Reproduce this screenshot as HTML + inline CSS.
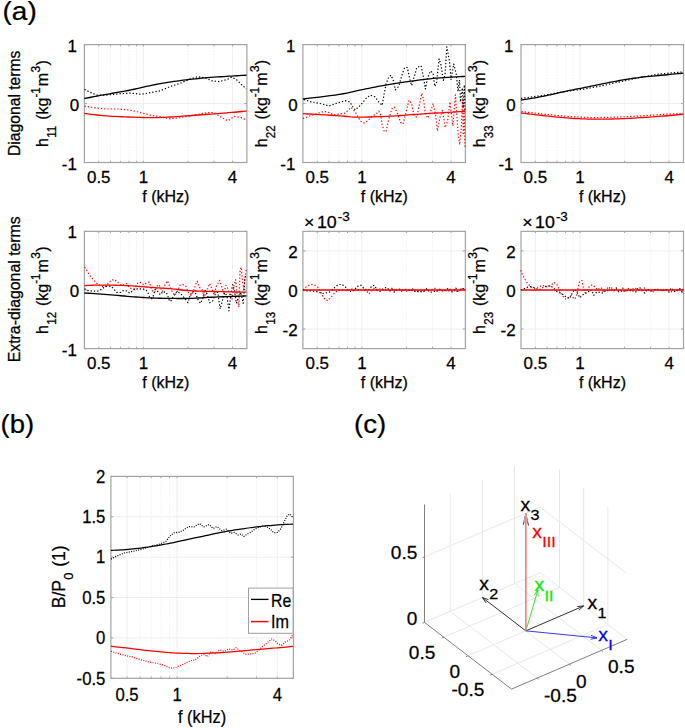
<!DOCTYPE html>
<html><head><meta charset="utf-8"><style>
html,body{margin:0;padding:0;background:#fff;width:685px;height:728px;overflow:hidden}
svg{display:block}
text{font-family:"Liberation Sans", sans-serif;stroke:#000;stroke-width:0.25px;}
</style></head><body>
<svg width="685" height="728" viewBox="0 0 685 728">
<rect width="685" height="728" fill="#fff"/>
<line x1="110.49" y1="44.6" x2="110.49" y2="162.5" stroke="#f2f2f2" stroke-width="1" stroke-dasharray="1.5,1.5"/>
<line x1="120.4" y1="44.6" x2="120.4" y2="162.5" stroke="#f2f2f2" stroke-width="1" stroke-dasharray="1.5,1.5"/>
<line x1="129" y1="44.6" x2="129" y2="162.5" stroke="#f2f2f2" stroke-width="1" stroke-dasharray="1.5,1.5"/>
<line x1="136.57" y1="44.6" x2="136.57" y2="162.5" stroke="#f2f2f2" stroke-width="1" stroke-dasharray="1.5,1.5"/>
<line x1="187.95" y1="44.6" x2="187.95" y2="162.5" stroke="#f2f2f2" stroke-width="1" stroke-dasharray="1.5,1.5"/>
<line x1="214.03" y1="44.6" x2="214.03" y2="162.5" stroke="#f2f2f2" stroke-width="1" stroke-dasharray="1.5,1.5"/>
<line x1="98.76" y1="44.6" x2="98.76" y2="162.5" stroke="#efefef" stroke-width="1"/>
<line x1="143.35" y1="44.6" x2="143.35" y2="162.5" stroke="#efefef" stroke-width="1"/>
<line x1="232.54" y1="44.6" x2="232.54" y2="162.5" stroke="#efefef" stroke-width="1"/>
<line x1="84.4" y1="103.55" x2="246.9" y2="103.55" stroke="#efefef" stroke-width="1"/>
<line x1="110.49" y1="162.5" x2="110.49" y2="160.75" stroke="#a3a3a3" stroke-width="1"/>
<line x1="110.49" y1="44.6" x2="110.49" y2="46.35" stroke="#a3a3a3" stroke-width="1"/>
<line x1="120.4" y1="162.5" x2="120.4" y2="160.75" stroke="#a3a3a3" stroke-width="1"/>
<line x1="120.4" y1="44.6" x2="120.4" y2="46.35" stroke="#a3a3a3" stroke-width="1"/>
<line x1="129" y1="162.5" x2="129" y2="160.75" stroke="#a3a3a3" stroke-width="1"/>
<line x1="129" y1="44.6" x2="129" y2="46.35" stroke="#a3a3a3" stroke-width="1"/>
<line x1="136.57" y1="162.5" x2="136.57" y2="160.75" stroke="#a3a3a3" stroke-width="1"/>
<line x1="136.57" y1="44.6" x2="136.57" y2="46.35" stroke="#a3a3a3" stroke-width="1"/>
<line x1="187.95" y1="162.5" x2="187.95" y2="160.75" stroke="#a3a3a3" stroke-width="1"/>
<line x1="187.95" y1="44.6" x2="187.95" y2="46.35" stroke="#a3a3a3" stroke-width="1"/>
<line x1="214.03" y1="162.5" x2="214.03" y2="160.75" stroke="#a3a3a3" stroke-width="1"/>
<line x1="214.03" y1="44.6" x2="214.03" y2="46.35" stroke="#a3a3a3" stroke-width="1"/>
<line x1="98.76" y1="162.5" x2="98.76" y2="160.75" stroke="#a3a3a3" stroke-width="1"/>
<line x1="98.76" y1="44.6" x2="98.76" y2="46.35" stroke="#a3a3a3" stroke-width="1"/>
<line x1="143.35" y1="162.5" x2="143.35" y2="160.75" stroke="#a3a3a3" stroke-width="1"/>
<line x1="143.35" y1="44.6" x2="143.35" y2="46.35" stroke="#a3a3a3" stroke-width="1"/>
<line x1="232.54" y1="162.5" x2="232.54" y2="160.75" stroke="#a3a3a3" stroke-width="1"/>
<line x1="232.54" y1="44.6" x2="232.54" y2="46.35" stroke="#a3a3a3" stroke-width="1"/>
<line x1="84.4" y1="162.5" x2="86.9" y2="162.5" stroke="#a3a3a3" stroke-width="1"/>
<line x1="246.9" y1="162.5" x2="244.4" y2="162.5" stroke="#a3a3a3" stroke-width="1"/>
<line x1="84.4" y1="103.55" x2="86.9" y2="103.55" stroke="#a3a3a3" stroke-width="1"/>
<line x1="246.9" y1="103.55" x2="244.4" y2="103.55" stroke="#a3a3a3" stroke-width="1"/>
<line x1="84.4" y1="44.6" x2="86.9" y2="44.6" stroke="#a3a3a3" stroke-width="1"/>
<line x1="246.9" y1="44.6" x2="244.4" y2="44.6" stroke="#a3a3a3" stroke-width="1"/>
<rect x="84.4" y="44.6" width="162.5" height="117.9" fill="none" stroke="#a3a3a3" stroke-width="1.2"/>
<text transform="translate(76.9,169.53) scale(1.06,1)" font-size="16" text-anchor="end" fill="#000">-1</text>
<text transform="translate(79.1,110.58) scale(1.06,1)" font-size="16" text-anchor="end" fill="#000">0</text>
<text transform="translate(76.9,51.63) scale(1.06,1)" font-size="16" text-anchor="end" fill="#000">1</text>
<text transform="translate(98.76,183.26) scale(1.06,1)" font-size="16" text-anchor="middle" fill="#000">0.5</text>
<text transform="translate(143.35,183.26) scale(1.06,1)" font-size="16" text-anchor="middle" fill="#000">1</text>
<text transform="translate(232.54,183.26) scale(1.06,1)" font-size="16" text-anchor="middle" fill="#000">4</text>
<polyline points="84.5,106.1 94.3,107.8 106.5,109 118.8,109 131,110.3 140.9,112.7 150.7,115.2 160.5,116.9 170.3,118.9 180.1,117.6 189.9,115.9 199.7,114 207.1,112.7 214.4,112.7 221.8,117.6 227.9,120.8 234.1,116.4 241.4,117.6 246.3,120.1" fill="none" stroke="#ff0000" stroke-width="1.2" stroke-linejoin="round" stroke-dasharray="1.3,2"/>
<polyline points="84.5,89.4 89.4,91.9 96.7,95.1 106.5,95.1 118.8,93.8 131,93.1 140.9,94.3 150.7,92.6 160.5,90.7 170.3,86.5 180.1,83.3 189.9,79.1 197.3,76.7 204.6,77.7 212,80.8 219.4,81.6 226.7,79.6 231.6,77.2 236.5,79.6 241.4,84.5 246.3,88.9" fill="none" stroke="#000" stroke-width="1.2" stroke-linejoin="round" stroke-dasharray="1.3,2"/>
<polyline points="84.3,98.5 86,98.18 88.24,97.75 90.9,97.24 93.87,96.67 97.03,96.07 100.27,95.46 103.46,94.86 106.5,94.3 109.45,93.77 112.46,93.24 115.51,92.71 118.6,92.18 121.7,91.63 124.81,91.07 127.92,90.5 131,89.9 134.07,89.26 137.15,88.59 140.22,87.88 143.3,87.17 146.38,86.46 149.45,85.77 152.53,85.11 155.6,84.5 158.67,83.93 161.73,83.39 164.79,82.87 167.86,82.38 170.92,81.91 173.98,81.46 177.04,81.02 180.1,80.6 183.16,80.2 186.22,79.82 189.28,79.46 192.34,79.11 195.41,78.79 198.47,78.48 201.53,78.18 204.6,77.9 207.72,77.63 210.91,77.39 214.14,77.16 217.35,76.94 220.51,76.74 223.56,76.55 226.47,76.37 229.2,76.2 231.83,76.03 234.44,75.88 236.98,75.73 239.39,75.59 241.6,75.47 243.56,75.36 245.22,75.27 246.5,75.2" fill="none" stroke="#000" stroke-width="1.3" stroke-linejoin="round"/>
<polyline points="84.3,113.5 86,113.69 88.24,113.96 90.9,114.28 93.87,114.62 97.03,114.98 100.27,115.33 103.46,115.64 106.5,115.9 109.45,116.11 112.46,116.3 115.51,116.47 118.6,116.62 121.7,116.75 124.81,116.88 127.92,116.99 131,117.1 134.07,117.21 137.15,117.31 140.22,117.41 143.3,117.5 146.38,117.57 149.45,117.61 152.53,117.62 155.6,117.6 158.67,117.54 161.73,117.44 164.79,117.31 167.86,117.15 170.92,116.98 173.98,116.79 177.04,116.6 180.1,116.4 183.16,116.2 186.22,115.97 189.28,115.73 192.34,115.49 195.41,115.24 198.47,114.98 201.53,114.74 204.6,114.5 207.72,114.27 210.91,114.04 214.14,113.81 217.35,113.59 220.51,113.36 223.56,113.14 226.47,112.92 229.2,112.7 231.83,112.47 234.44,112.23 236.98,111.98 239.39,111.74 241.6,111.51 243.56,111.3 245.22,111.13 246.5,111" fill="none" stroke="#ff0000" stroke-width="1.3" stroke-linejoin="round"/>
<text transform="translate(165.85,201.9) scale(1.0,1)" font-size="16" text-anchor="middle" fill="#000">f (kHz)</text>
<line x1="328.99" y1="44.6" x2="328.99" y2="162.5" stroke="#f2f2f2" stroke-width="1" stroke-dasharray="1.5,1.5"/>
<line x1="338.9" y1="44.6" x2="338.9" y2="162.5" stroke="#f2f2f2" stroke-width="1" stroke-dasharray="1.5,1.5"/>
<line x1="347.5" y1="44.6" x2="347.5" y2="162.5" stroke="#f2f2f2" stroke-width="1" stroke-dasharray="1.5,1.5"/>
<line x1="355.07" y1="44.6" x2="355.07" y2="162.5" stroke="#f2f2f2" stroke-width="1" stroke-dasharray="1.5,1.5"/>
<line x1="406.45" y1="44.6" x2="406.45" y2="162.5" stroke="#f2f2f2" stroke-width="1" stroke-dasharray="1.5,1.5"/>
<line x1="432.53" y1="44.6" x2="432.53" y2="162.5" stroke="#f2f2f2" stroke-width="1" stroke-dasharray="1.5,1.5"/>
<line x1="317.26" y1="44.6" x2="317.26" y2="162.5" stroke="#efefef" stroke-width="1"/>
<line x1="361.85" y1="44.6" x2="361.85" y2="162.5" stroke="#efefef" stroke-width="1"/>
<line x1="451.04" y1="44.6" x2="451.04" y2="162.5" stroke="#efefef" stroke-width="1"/>
<line x1="302.9" y1="103.55" x2="465.4" y2="103.55" stroke="#efefef" stroke-width="1"/>
<line x1="328.99" y1="162.5" x2="328.99" y2="160.75" stroke="#a3a3a3" stroke-width="1"/>
<line x1="328.99" y1="44.6" x2="328.99" y2="46.35" stroke="#a3a3a3" stroke-width="1"/>
<line x1="338.9" y1="162.5" x2="338.9" y2="160.75" stroke="#a3a3a3" stroke-width="1"/>
<line x1="338.9" y1="44.6" x2="338.9" y2="46.35" stroke="#a3a3a3" stroke-width="1"/>
<line x1="347.5" y1="162.5" x2="347.5" y2="160.75" stroke="#a3a3a3" stroke-width="1"/>
<line x1="347.5" y1="44.6" x2="347.5" y2="46.35" stroke="#a3a3a3" stroke-width="1"/>
<line x1="355.07" y1="162.5" x2="355.07" y2="160.75" stroke="#a3a3a3" stroke-width="1"/>
<line x1="355.07" y1="44.6" x2="355.07" y2="46.35" stroke="#a3a3a3" stroke-width="1"/>
<line x1="406.45" y1="162.5" x2="406.45" y2="160.75" stroke="#a3a3a3" stroke-width="1"/>
<line x1="406.45" y1="44.6" x2="406.45" y2="46.35" stroke="#a3a3a3" stroke-width="1"/>
<line x1="432.53" y1="162.5" x2="432.53" y2="160.75" stroke="#a3a3a3" stroke-width="1"/>
<line x1="432.53" y1="44.6" x2="432.53" y2="46.35" stroke="#a3a3a3" stroke-width="1"/>
<line x1="317.26" y1="162.5" x2="317.26" y2="160.75" stroke="#a3a3a3" stroke-width="1"/>
<line x1="317.26" y1="44.6" x2="317.26" y2="46.35" stroke="#a3a3a3" stroke-width="1"/>
<line x1="361.85" y1="162.5" x2="361.85" y2="160.75" stroke="#a3a3a3" stroke-width="1"/>
<line x1="361.85" y1="44.6" x2="361.85" y2="46.35" stroke="#a3a3a3" stroke-width="1"/>
<line x1="451.04" y1="162.5" x2="451.04" y2="160.75" stroke="#a3a3a3" stroke-width="1"/>
<line x1="451.04" y1="44.6" x2="451.04" y2="46.35" stroke="#a3a3a3" stroke-width="1"/>
<line x1="302.9" y1="162.5" x2="305.4" y2="162.5" stroke="#a3a3a3" stroke-width="1"/>
<line x1="465.4" y1="162.5" x2="462.9" y2="162.5" stroke="#a3a3a3" stroke-width="1"/>
<line x1="302.9" y1="103.55" x2="305.4" y2="103.55" stroke="#a3a3a3" stroke-width="1"/>
<line x1="465.4" y1="103.55" x2="462.9" y2="103.55" stroke="#a3a3a3" stroke-width="1"/>
<line x1="302.9" y1="44.6" x2="305.4" y2="44.6" stroke="#a3a3a3" stroke-width="1"/>
<line x1="465.4" y1="44.6" x2="462.9" y2="44.6" stroke="#a3a3a3" stroke-width="1"/>
<rect x="302.9" y="44.6" width="162.5" height="117.9" fill="none" stroke="#a3a3a3" stroke-width="1.2"/>
<text transform="translate(295.4,169.53) scale(1.06,1)" font-size="16" text-anchor="end" fill="#000">-1</text>
<text transform="translate(297.6,110.58) scale(1.06,1)" font-size="16" text-anchor="end" fill="#000">0</text>
<text transform="translate(295.4,51.63) scale(1.06,1)" font-size="16" text-anchor="end" fill="#000">1</text>
<text transform="translate(317.26,183.26) scale(1.06,1)" font-size="16" text-anchor="middle" fill="#000">0.5</text>
<text transform="translate(361.85,183.26) scale(1.06,1)" font-size="16" text-anchor="middle" fill="#000">1</text>
<text transform="translate(451.04,183.26) scale(1.06,1)" font-size="16" text-anchor="middle" fill="#000">4</text>
<polyline points="302.9,118.5 306.6,117.2 311.8,115.2 317.1,113.6 322.3,111.9 326.3,111.6 330.2,113.2 334.2,114.9 339.4,114.1 344.7,113.2 348.6,109.9 351.2,107.3 355.2,111.9 357.8,116.5 360.4,121.1 364.4,123.1 368.3,120.4 371.6,116.5 376.2,113.9 378.8,111.2 380.8,115.2 382.1,124.4 384.1,131 386.1,131.6 388.4,120.7 391.9,108.7 394.4,107 397,112.1 400.5,122.4 403,124.1 405.6,113.8 409,100.1 411.6,103.5 414.2,115.5 416.8,117.3 418.5,108.7 421.9,93.2 423.6,100.1 425.4,113.8 427.9,118.1 430.5,112.1 433.1,103.5 435.7,115.5 437.4,131 440,117.3 442.5,110.4 445.1,127.6 447.7,120.7 449.9,101.8 452.8,125.8 455.4,94.9 458,132.7 459.7,144.7 461.4,125.8 462.5,100 463.3,135 464.2,110 465,148.2" fill="none" stroke="#ff0000" stroke-width="1.2" stroke-linejoin="round" stroke-dasharray="1.3,2"/>
<polyline points="303.9,99.4 309.2,101.4 315.8,102.7 322.3,104 328.9,106 332.8,104.7 338.1,102.7 346,100.7 349.9,102 352.6,106.6 355.2,109.9 360.4,105.3 365.7,98.8 370.3,95.2 374.9,96.8 378.8,102 382.1,105.3 384.1,94.2 386.1,83.6 388.7,77.1 391,75.2 393.6,81.2 395.3,89.8 398.7,86.4 402.2,74.3 404.7,67.5 407.3,67.5 409.9,79.5 411.6,85.5 415,74.3 416.8,67.5 421.1,65.8 423.6,77.8 425.4,88.9 427.1,79.5 430.5,70.9 433.1,73.5 434.8,86.4 436.5,82.9 439.1,58.9 440.8,64 443.4,80.4 445.1,74.3 446.8,46.9 449.4,60.6 451.1,79.5 453.7,64 456.3,74.3 458,91.5 459.5,80 460.5,101.8 462.3,88 463.3,108 464.3,85 465,112" fill="none" stroke="#000" stroke-width="1.2" stroke-linejoin="round" stroke-dasharray="1.3,2"/>
<polyline points="302.9,99 305.79,98.65 309.7,98.19 314.36,97.65 319.51,97.04 324.86,96.39 330.14,95.72 335.08,95.05 339.4,94.4 343.19,93.75 346.74,93.07 350.1,92.36 353.31,91.65 356.43,90.94 359.5,90.23 362.58,89.55 365.7,88.9 368.86,88.27 372,87.65 375.11,87.04 378.19,86.45 381.23,85.88 384.22,85.32 387.14,84.8 390,84.3 392.73,83.84 395.33,83.42 397.84,83.03 400.31,82.66 402.79,82.3 405.34,81.94 407.99,81.58 410.8,81.2 413.76,80.8 416.81,80.39 419.96,79.98 423.17,79.56 426.44,79.16 429.76,78.78 433.12,78.42 436.5,78.1 440.12,77.81 444.1,77.54 448.23,77.29 452.36,77.06 456.28,76.85 459.81,76.67 462.78,76.52 465,76.4" fill="none" stroke="#000" stroke-width="1.3" stroke-linejoin="round"/>
<polyline points="302.9,113.6 305.84,113.78 309.88,114.01 314.71,114.3 320,114.61 325.43,114.94 330.69,115.25 335.45,115.55 339.4,115.8 342.47,116.03 344.95,116.26 347.02,116.49 348.87,116.7 350.68,116.89 352.65,117.04 354.96,117.15 357.8,117.2 361.24,117.19 365.15,117.13 369.37,117.02 373.75,116.88 378.15,116.72 382.43,116.54 386.43,116.37 390,116.2 393.11,116.04 395.89,115.86 398.42,115.68 400.81,115.49 403.14,115.3 405.52,115.1 408.04,114.9 410.8,114.7 413.76,114.5 416.81,114.29 419.96,114.08 423.17,113.86 426.44,113.65 429.76,113.43 433.12,113.21 436.5,113 440.12,112.78 444.1,112.54 448.23,112.29 452.36,112.04 456.28,111.81 459.81,111.61 462.78,111.43 465,111.3" fill="none" stroke="#ff0000" stroke-width="1.3" stroke-linejoin="round"/>
<text transform="translate(384.35,201.9) scale(1.0,1)" font-size="16" text-anchor="middle" fill="#000">f (kHz)</text>
<line x1="547.09" y1="44.6" x2="547.09" y2="162.5" stroke="#f2f2f2" stroke-width="1" stroke-dasharray="1.5,1.5"/>
<line x1="557" y1="44.6" x2="557" y2="162.5" stroke="#f2f2f2" stroke-width="1" stroke-dasharray="1.5,1.5"/>
<line x1="565.6" y1="44.6" x2="565.6" y2="162.5" stroke="#f2f2f2" stroke-width="1" stroke-dasharray="1.5,1.5"/>
<line x1="573.17" y1="44.6" x2="573.17" y2="162.5" stroke="#f2f2f2" stroke-width="1" stroke-dasharray="1.5,1.5"/>
<line x1="624.55" y1="44.6" x2="624.55" y2="162.5" stroke="#f2f2f2" stroke-width="1" stroke-dasharray="1.5,1.5"/>
<line x1="650.63" y1="44.6" x2="650.63" y2="162.5" stroke="#f2f2f2" stroke-width="1" stroke-dasharray="1.5,1.5"/>
<line x1="535.36" y1="44.6" x2="535.36" y2="162.5" stroke="#efefef" stroke-width="1"/>
<line x1="579.95" y1="44.6" x2="579.95" y2="162.5" stroke="#efefef" stroke-width="1"/>
<line x1="669.14" y1="44.6" x2="669.14" y2="162.5" stroke="#efefef" stroke-width="1"/>
<line x1="521" y1="103.55" x2="683.5" y2="103.55" stroke="#efefef" stroke-width="1"/>
<line x1="547.09" y1="162.5" x2="547.09" y2="160.75" stroke="#a3a3a3" stroke-width="1"/>
<line x1="547.09" y1="44.6" x2="547.09" y2="46.35" stroke="#a3a3a3" stroke-width="1"/>
<line x1="557" y1="162.5" x2="557" y2="160.75" stroke="#a3a3a3" stroke-width="1"/>
<line x1="557" y1="44.6" x2="557" y2="46.35" stroke="#a3a3a3" stroke-width="1"/>
<line x1="565.6" y1="162.5" x2="565.6" y2="160.75" stroke="#a3a3a3" stroke-width="1"/>
<line x1="565.6" y1="44.6" x2="565.6" y2="46.35" stroke="#a3a3a3" stroke-width="1"/>
<line x1="573.17" y1="162.5" x2="573.17" y2="160.75" stroke="#a3a3a3" stroke-width="1"/>
<line x1="573.17" y1="44.6" x2="573.17" y2="46.35" stroke="#a3a3a3" stroke-width="1"/>
<line x1="624.55" y1="162.5" x2="624.55" y2="160.75" stroke="#a3a3a3" stroke-width="1"/>
<line x1="624.55" y1="44.6" x2="624.55" y2="46.35" stroke="#a3a3a3" stroke-width="1"/>
<line x1="650.63" y1="162.5" x2="650.63" y2="160.75" stroke="#a3a3a3" stroke-width="1"/>
<line x1="650.63" y1="44.6" x2="650.63" y2="46.35" stroke="#a3a3a3" stroke-width="1"/>
<line x1="535.36" y1="162.5" x2="535.36" y2="160.75" stroke="#a3a3a3" stroke-width="1"/>
<line x1="535.36" y1="44.6" x2="535.36" y2="46.35" stroke="#a3a3a3" stroke-width="1"/>
<line x1="579.95" y1="162.5" x2="579.95" y2="160.75" stroke="#a3a3a3" stroke-width="1"/>
<line x1="579.95" y1="44.6" x2="579.95" y2="46.35" stroke="#a3a3a3" stroke-width="1"/>
<line x1="669.14" y1="162.5" x2="669.14" y2="160.75" stroke="#a3a3a3" stroke-width="1"/>
<line x1="669.14" y1="44.6" x2="669.14" y2="46.35" stroke="#a3a3a3" stroke-width="1"/>
<line x1="521" y1="162.5" x2="523.5" y2="162.5" stroke="#a3a3a3" stroke-width="1"/>
<line x1="683.5" y1="162.5" x2="681" y2="162.5" stroke="#a3a3a3" stroke-width="1"/>
<line x1="521" y1="103.55" x2="523.5" y2="103.55" stroke="#a3a3a3" stroke-width="1"/>
<line x1="683.5" y1="103.55" x2="681" y2="103.55" stroke="#a3a3a3" stroke-width="1"/>
<line x1="521" y1="44.6" x2="523.5" y2="44.6" stroke="#a3a3a3" stroke-width="1"/>
<line x1="683.5" y1="44.6" x2="681" y2="44.6" stroke="#a3a3a3" stroke-width="1"/>
<rect x="521" y="44.6" width="162.5" height="117.9" fill="none" stroke="#a3a3a3" stroke-width="1.2"/>
<text transform="translate(513.5,169.53) scale(1.06,1)" font-size="16" text-anchor="end" fill="#000">-1</text>
<text transform="translate(515.7,110.58) scale(1.06,1)" font-size="16" text-anchor="end" fill="#000">0</text>
<text transform="translate(513.5,51.63) scale(1.06,1)" font-size="16" text-anchor="end" fill="#000">1</text>
<text transform="translate(535.36,183.26) scale(1.06,1)" font-size="16" text-anchor="middle" fill="#000">0.5</text>
<text transform="translate(579.95,183.26) scale(1.06,1)" font-size="16" text-anchor="middle" fill="#000">1</text>
<text transform="translate(669.14,183.26) scale(1.06,1)" font-size="16" text-anchor="middle" fill="#000">4</text>
<polyline points="521.5,111.5 542.4,114 566.8,116.4 591.1,117.6 615.5,117.2 639.9,116 664.3,114.3 683,113.4" fill="none" stroke="#ff0000" stroke-width="1.2" stroke-linejoin="round" stroke-dasharray="1.3,2"/>
<polyline points="521,98.38 524,97.98 527,97.58 530,97.17 533,96.77 536,96.36 539,95.96 542,95.56 545,95.04 548,94.5 551,93.97 554,93.44 557,92.91 560,92.38 563,91.85 566,91.35 569,90.96 572,90.58 575,90.2 578,89.82 581,89.44 584,89.06 587,88.56 590,88 593,87.44 596,86.88 599,86.32 602,85.77 605,85.21 608,84.49 611,83.76 614,83.04 617,82.38 620,81.78 623,81.18 626,80.56 629,79.88 632,79.2 635,78.52 638,77.84 641,77.22 644,76.7 647,76.18 650,75.66 653,75.14 656,74.62 659,74.1 662,73.74 665,73.48 668,73.22 671,72.96 674,72.7 677,72.44 680,72.19 683,71.93" fill="none" stroke="#000" stroke-width="1.2" stroke-linejoin="round" stroke-dasharray="1.3,2"/>
<polyline points="520.9,100.1 522.54,99.83 524.7,99.47 527.26,99.05 530.12,98.58 533.18,98.07 536.32,97.52 539.43,96.96 542.4,96.4 545.31,95.81 548.3,95.18 551.34,94.51 554.42,93.83 557.53,93.13 560.64,92.43 563.73,91.75 566.8,91.1 569.84,90.47 572.88,89.85 575.92,89.23 578.95,88.62 581.98,88.02 585.02,87.42 588.06,86.81 591.1,86.2 594.15,85.58 597.19,84.95 600.24,84.32 603.29,83.69 606.35,83.06 609.4,82.45 612.45,81.86 615.5,81.3 618.55,80.75 621.6,80.22 624.65,79.7 627.7,79.19 630.75,78.71 633.8,78.25 636.85,77.81 639.9,77.4 642.99,77.02 646.13,76.68 649.29,76.36 652.44,76.07 655.55,75.79 658.58,75.52 661.51,75.26 664.3,75 667.06,74.73 669.87,74.47 672.66,74.2 675.32,73.95 677.8,73.72 680.01,73.51 681.87,73.33 683.3,73.2" fill="none" stroke="#000" stroke-width="1.3" stroke-linejoin="round"/>
<polyline points="520.9,113 522.54,113.19 524.7,113.45 527.26,113.76 530.12,114.1 533.18,114.46 536.32,114.82 539.43,115.18 542.4,115.5 545.31,115.81 548.3,116.14 551.34,116.46 554.42,116.78 557.53,117.09 560.64,117.39 563.73,117.66 566.8,117.9 569.84,118.12 572.88,118.32 575.92,118.5 578.95,118.66 581.98,118.81 585.02,118.93 588.06,119.03 591.1,119.1 594.15,119.15 597.19,119.17 600.24,119.17 603.29,119.15 606.35,119.11 609.4,119.05 612.45,118.98 615.5,118.9 618.55,118.8 621.6,118.68 624.65,118.55 627.7,118.39 630.75,118.23 633.8,118.06 636.85,117.88 639.9,117.7 642.99,117.51 646.13,117.31 649.29,117.1 652.44,116.89 655.55,116.67 658.58,116.44 661.51,116.22 664.3,116 667.06,115.77 669.87,115.51 672.66,115.25 675.32,114.99 677.8,114.75 680.01,114.53 681.87,114.34 683.3,114.2" fill="none" stroke="#ff0000" stroke-width="1.3" stroke-linejoin="round"/>
<text transform="translate(602.45,201.9) scale(1.0,1)" font-size="16" text-anchor="middle" fill="#000">f (kHz)</text>
<line x1="110.49" y1="231.35" x2="110.49" y2="348.6" stroke="#f2f2f2" stroke-width="1" stroke-dasharray="1.5,1.5"/>
<line x1="120.4" y1="231.35" x2="120.4" y2="348.6" stroke="#f2f2f2" stroke-width="1" stroke-dasharray="1.5,1.5"/>
<line x1="129" y1="231.35" x2="129" y2="348.6" stroke="#f2f2f2" stroke-width="1" stroke-dasharray="1.5,1.5"/>
<line x1="136.57" y1="231.35" x2="136.57" y2="348.6" stroke="#f2f2f2" stroke-width="1" stroke-dasharray="1.5,1.5"/>
<line x1="187.95" y1="231.35" x2="187.95" y2="348.6" stroke="#f2f2f2" stroke-width="1" stroke-dasharray="1.5,1.5"/>
<line x1="214.03" y1="231.35" x2="214.03" y2="348.6" stroke="#f2f2f2" stroke-width="1" stroke-dasharray="1.5,1.5"/>
<line x1="98.76" y1="231.35" x2="98.76" y2="348.6" stroke="#efefef" stroke-width="1"/>
<line x1="143.35" y1="231.35" x2="143.35" y2="348.6" stroke="#efefef" stroke-width="1"/>
<line x1="232.54" y1="231.35" x2="232.54" y2="348.6" stroke="#efefef" stroke-width="1"/>
<line x1="84.4" y1="289.98" x2="246.9" y2="289.98" stroke="#efefef" stroke-width="1"/>
<line x1="110.49" y1="348.6" x2="110.49" y2="346.85" stroke="#a3a3a3" stroke-width="1"/>
<line x1="110.49" y1="231.35" x2="110.49" y2="233.1" stroke="#a3a3a3" stroke-width="1"/>
<line x1="120.4" y1="348.6" x2="120.4" y2="346.85" stroke="#a3a3a3" stroke-width="1"/>
<line x1="120.4" y1="231.35" x2="120.4" y2="233.1" stroke="#a3a3a3" stroke-width="1"/>
<line x1="129" y1="348.6" x2="129" y2="346.85" stroke="#a3a3a3" stroke-width="1"/>
<line x1="129" y1="231.35" x2="129" y2="233.1" stroke="#a3a3a3" stroke-width="1"/>
<line x1="136.57" y1="348.6" x2="136.57" y2="346.85" stroke="#a3a3a3" stroke-width="1"/>
<line x1="136.57" y1="231.35" x2="136.57" y2="233.1" stroke="#a3a3a3" stroke-width="1"/>
<line x1="187.95" y1="348.6" x2="187.95" y2="346.85" stroke="#a3a3a3" stroke-width="1"/>
<line x1="187.95" y1="231.35" x2="187.95" y2="233.1" stroke="#a3a3a3" stroke-width="1"/>
<line x1="214.03" y1="348.6" x2="214.03" y2="346.85" stroke="#a3a3a3" stroke-width="1"/>
<line x1="214.03" y1="231.35" x2="214.03" y2="233.1" stroke="#a3a3a3" stroke-width="1"/>
<line x1="98.76" y1="348.6" x2="98.76" y2="346.85" stroke="#a3a3a3" stroke-width="1"/>
<line x1="98.76" y1="231.35" x2="98.76" y2="233.1" stroke="#a3a3a3" stroke-width="1"/>
<line x1="143.35" y1="348.6" x2="143.35" y2="346.85" stroke="#a3a3a3" stroke-width="1"/>
<line x1="143.35" y1="231.35" x2="143.35" y2="233.1" stroke="#a3a3a3" stroke-width="1"/>
<line x1="232.54" y1="348.6" x2="232.54" y2="346.85" stroke="#a3a3a3" stroke-width="1"/>
<line x1="232.54" y1="231.35" x2="232.54" y2="233.1" stroke="#a3a3a3" stroke-width="1"/>
<line x1="84.4" y1="348.6" x2="86.9" y2="348.6" stroke="#a3a3a3" stroke-width="1"/>
<line x1="246.9" y1="348.6" x2="244.4" y2="348.6" stroke="#a3a3a3" stroke-width="1"/>
<line x1="84.4" y1="289.98" x2="86.9" y2="289.98" stroke="#a3a3a3" stroke-width="1"/>
<line x1="246.9" y1="289.98" x2="244.4" y2="289.98" stroke="#a3a3a3" stroke-width="1"/>
<line x1="84.4" y1="231.35" x2="86.9" y2="231.35" stroke="#a3a3a3" stroke-width="1"/>
<line x1="246.9" y1="231.35" x2="244.4" y2="231.35" stroke="#a3a3a3" stroke-width="1"/>
<rect x="84.4" y="231.35" width="162.5" height="117.25" fill="none" stroke="#a3a3a3" stroke-width="1.2"/>
<text transform="translate(76.9,355.63) scale(1.06,1)" font-size="16" text-anchor="end" fill="#000">-1</text>
<text transform="translate(79.1,297) scale(1.06,1)" font-size="16" text-anchor="end" fill="#000">0</text>
<text transform="translate(76.9,238.38) scale(1.06,1)" font-size="16" text-anchor="end" fill="#000">1</text>
<text transform="translate(98.76,369.36) scale(1.06,1)" font-size="16" text-anchor="middle" fill="#000">0.5</text>
<text transform="translate(143.35,369.36) scale(1.06,1)" font-size="16" text-anchor="middle" fill="#000">1</text>
<text transform="translate(232.54,369.36) scale(1.06,1)" font-size="16" text-anchor="middle" fill="#000">4</text>
<polyline points="84.5,267.2 86.5,270.2 88.4,273.2 90.4,276.2 92.9,279.2 95.5,282.2 98.7,284.8 101.9,286.5 105.1,286.9 108.3,283.3 111.5,280 114.8,279.7 118,282.6 121.8,285.6 126.3,283.5 129.5,287.8 132.1,289 134.7,288.7 137.9,283 141.1,282.4 143.7,284.8 146.9,282.6 149.4,282.2 152,290.3 154.6,292.5 157.2,285.8 159.1,284.8 162.3,291.6 164.9,285.2 167.4,280.7 170,286.6 172.4,292.2 174.9,295.3 177.4,291.5 179.9,285.3 183,284.5 186.1,286.6 188.6,292.8 191.1,295.3 193.5,290.9 196,283.5 197.3,281.2 199.1,287.2 202.2,289.7 204.1,297.1 206.6,290.9 209.7,283.5 212.2,289.7 214,294.6 216.5,286 219.6,280.4 221.5,286 223.9,294 225.8,285.3 227.7,288.4 230.1,295.9 232,299.6 233.9,285.9 235.7,279.7 237.6,299.6 238.8,307 240.1,269.8 241.3,267.3 242.6,282.2 243.8,289.7 245,277.3 246.5,268.6" fill="none" stroke="#ff0000" stroke-width="1.2" stroke-linejoin="round" stroke-dasharray="1.3,2"/>
<polyline points="84.5,288.7 87.1,290.3 92.3,291.2 97.4,291.2 101.3,289.4 104.5,287.1 107.7,286.1 111.5,286.5 114.1,289.4 116.7,292.3 120.5,292.5 123.1,290.7 127,291 129.5,293.2 132.7,290.7 135.3,288.7 138.5,289 142.4,288.7 146.2,290 148.2,293.3 149.4,296.8 151.4,298.7 153.3,295.9 155.2,289.4 157.8,291.6 160.4,294.8 162.9,291.6 166.1,292.3 167.4,294.8 169.4,300.6 170.6,301.5 173.7,295.9 176.8,291.5 180.5,293.4 184.2,297.7 188,302.7 190.4,294.6 192.9,291.5 195.4,292.8 197.9,299.6 200.4,303.3 202.8,298.4 204.7,289.7 207.2,294.6 209.7,302.7 212.8,300.8 215.3,294 217.7,292.2 220.2,308.9 222.7,299.6 224.6,292.8 227,295.9 228.9,310.8 230.8,294.6 232.6,284.7 234.5,289.7 236.3,303.3 238.2,298.4 240.7,292.2 243.2,303.3 245,277.3 246.5,274.8" fill="none" stroke="#000" stroke-width="1.2" stroke-linejoin="round" stroke-dasharray="1.3,2"/>
<polyline points="84.3,293 86.09,293.12 88.45,293.27 91.26,293.46 94.39,293.66 97.73,293.89 101.14,294.12 104.5,294.36 107.7,294.6 110.85,294.85 114.11,295.13 117.45,295.43 120.81,295.73 124.13,296.02 127.37,296.31 130.48,296.57 133.4,296.8 136.13,297 138.72,297.19 141.19,297.36 143.58,297.51 145.89,297.65 148.17,297.78 150.43,297.9 152.7,298 154.94,298.09 157.11,298.17 159.22,298.23 161.32,298.27 163.42,298.31 165.55,298.35 167.73,298.37 170,298.4 172.32,298.43 174.66,298.46 177.02,298.49 179.43,298.51 181.9,298.51 184.44,298.5 187.07,298.46 189.8,298.4 192.61,298.3 195.48,298.16 198.42,298 201.44,297.82 204.56,297.64 207.78,297.45 211.13,297.27 214.6,297.1 218.47,296.94 222.82,296.76 227.44,296.59 232.1,296.42 236.56,296.26 240.6,296.11 243.99,295.99 246.5,295.9" fill="none" stroke="#000" stroke-width="1.3" stroke-linejoin="round"/>
<polyline points="84.3,285.6 85.36,285.56 86.71,285.49 88.32,285.41 90.14,285.33 92.13,285.25 94.24,285.18 96.45,285.13 98.7,285.1 101.11,285.1 103.78,285.11 106.61,285.13 109.53,285.17 112.46,285.22 115.32,285.27 118.03,285.33 120.5,285.4 122.73,285.47 124.79,285.55 126.72,285.64 128.57,285.74 130.38,285.84 132.19,285.95 134.05,286.07 136,286.2 138.03,286.34 140.08,286.49 142.15,286.66 144.24,286.82 146.34,287 148.45,287.17 150.58,287.34 152.7,287.5 154.82,287.65 156.92,287.79 159.03,287.92 161.16,288.06 163.3,288.2 165.49,288.35 167.71,288.51 170,288.7 172.32,288.92 174.66,289.17 177.02,289.44 179.43,289.73 181.9,290 184.44,290.27 187.07,290.5 189.8,290.7 192.61,290.86 195.48,290.99 198.42,291.09 201.44,291.18 204.56,291.26 207.78,291.34 211.13,291.41 214.6,291.5 218.47,291.6 222.82,291.7 227.44,291.8 232.1,291.9 236.56,291.99 240.6,292.08 243.99,292.15 246.5,292.2" fill="none" stroke="#ff0000" stroke-width="1.3" stroke-linejoin="round"/>
<text transform="translate(165.85,388) scale(1.0,1)" font-size="16" text-anchor="middle" fill="#000">f (kHz)</text>
<line x1="328.99" y1="231.35" x2="328.99" y2="348.6" stroke="#f2f2f2" stroke-width="1" stroke-dasharray="1.5,1.5"/>
<line x1="338.9" y1="231.35" x2="338.9" y2="348.6" stroke="#f2f2f2" stroke-width="1" stroke-dasharray="1.5,1.5"/>
<line x1="347.5" y1="231.35" x2="347.5" y2="348.6" stroke="#f2f2f2" stroke-width="1" stroke-dasharray="1.5,1.5"/>
<line x1="355.07" y1="231.35" x2="355.07" y2="348.6" stroke="#f2f2f2" stroke-width="1" stroke-dasharray="1.5,1.5"/>
<line x1="406.45" y1="231.35" x2="406.45" y2="348.6" stroke="#f2f2f2" stroke-width="1" stroke-dasharray="1.5,1.5"/>
<line x1="432.53" y1="231.35" x2="432.53" y2="348.6" stroke="#f2f2f2" stroke-width="1" stroke-dasharray="1.5,1.5"/>
<line x1="317.26" y1="231.35" x2="317.26" y2="348.6" stroke="#efefef" stroke-width="1"/>
<line x1="361.85" y1="231.35" x2="361.85" y2="348.6" stroke="#efefef" stroke-width="1"/>
<line x1="451.04" y1="231.35" x2="451.04" y2="348.6" stroke="#efefef" stroke-width="1"/>
<line x1="302.9" y1="329.06" x2="465.4" y2="329.06" stroke="#efefef" stroke-width="1"/>
<line x1="302.9" y1="289.98" x2="465.4" y2="289.98" stroke="#efefef" stroke-width="1"/>
<line x1="302.9" y1="250.89" x2="465.4" y2="250.89" stroke="#efefef" stroke-width="1"/>
<line x1="328.99" y1="348.6" x2="328.99" y2="346.85" stroke="#a3a3a3" stroke-width="1"/>
<line x1="328.99" y1="231.35" x2="328.99" y2="233.1" stroke="#a3a3a3" stroke-width="1"/>
<line x1="338.9" y1="348.6" x2="338.9" y2="346.85" stroke="#a3a3a3" stroke-width="1"/>
<line x1="338.9" y1="231.35" x2="338.9" y2="233.1" stroke="#a3a3a3" stroke-width="1"/>
<line x1="347.5" y1="348.6" x2="347.5" y2="346.85" stroke="#a3a3a3" stroke-width="1"/>
<line x1="347.5" y1="231.35" x2="347.5" y2="233.1" stroke="#a3a3a3" stroke-width="1"/>
<line x1="355.07" y1="348.6" x2="355.07" y2="346.85" stroke="#a3a3a3" stroke-width="1"/>
<line x1="355.07" y1="231.35" x2="355.07" y2="233.1" stroke="#a3a3a3" stroke-width="1"/>
<line x1="406.45" y1="348.6" x2="406.45" y2="346.85" stroke="#a3a3a3" stroke-width="1"/>
<line x1="406.45" y1="231.35" x2="406.45" y2="233.1" stroke="#a3a3a3" stroke-width="1"/>
<line x1="432.53" y1="348.6" x2="432.53" y2="346.85" stroke="#a3a3a3" stroke-width="1"/>
<line x1="432.53" y1="231.35" x2="432.53" y2="233.1" stroke="#a3a3a3" stroke-width="1"/>
<line x1="317.26" y1="348.6" x2="317.26" y2="346.85" stroke="#a3a3a3" stroke-width="1"/>
<line x1="317.26" y1="231.35" x2="317.26" y2="233.1" stroke="#a3a3a3" stroke-width="1"/>
<line x1="361.85" y1="348.6" x2="361.85" y2="346.85" stroke="#a3a3a3" stroke-width="1"/>
<line x1="361.85" y1="231.35" x2="361.85" y2="233.1" stroke="#a3a3a3" stroke-width="1"/>
<line x1="451.04" y1="348.6" x2="451.04" y2="346.85" stroke="#a3a3a3" stroke-width="1"/>
<line x1="451.04" y1="231.35" x2="451.04" y2="233.1" stroke="#a3a3a3" stroke-width="1"/>
<line x1="302.9" y1="329.06" x2="305.4" y2="329.06" stroke="#a3a3a3" stroke-width="1"/>
<line x1="465.4" y1="329.06" x2="462.9" y2="329.06" stroke="#a3a3a3" stroke-width="1"/>
<line x1="302.9" y1="289.98" x2="305.4" y2="289.98" stroke="#a3a3a3" stroke-width="1"/>
<line x1="465.4" y1="289.98" x2="462.9" y2="289.98" stroke="#a3a3a3" stroke-width="1"/>
<line x1="302.9" y1="250.89" x2="305.4" y2="250.89" stroke="#a3a3a3" stroke-width="1"/>
<line x1="465.4" y1="250.89" x2="462.9" y2="250.89" stroke="#a3a3a3" stroke-width="1"/>
<rect x="302.9" y="231.35" width="162.5" height="117.25" fill="none" stroke="#a3a3a3" stroke-width="1.2"/>
<text transform="translate(297.6,336.09) scale(1.06,1)" font-size="16" text-anchor="end" fill="#000">-2</text>
<text transform="translate(297.6,297) scale(1.06,1)" font-size="16" text-anchor="end" fill="#000">0</text>
<text transform="translate(297.6,257.92) scale(1.06,1)" font-size="16" text-anchor="end" fill="#000">2</text>
<text transform="translate(317.26,369.36) scale(1.06,1)" font-size="16" text-anchor="middle" fill="#000">0.5</text>
<text transform="translate(361.85,369.36) scale(1.06,1)" font-size="16" text-anchor="middle" fill="#000">1</text>
<text transform="translate(451.04,369.36) scale(1.06,1)" font-size="16" text-anchor="middle" fill="#000">4</text>
<polyline points="303.1,289.8 305.6,287.3 308.7,285.4 311.8,284.5 314.9,285.2 318,287.3 320.5,291.6 323,296.6 325.4,299.7 327.9,300.6 330.4,297.9 332.9,294.8 335.4,292.3 338.5,290.4 343.4,289.8 348,291 352,289 356,290.5 360,289.5 364,290 367,291.6 368.9,293.9 371.3,291.6 374.5,287.9 377,289.5 380,289.06 382.2,290.16 384.4,289.53 386.6,290.37 388.8,290.45 391,288.44 393.2,288.25 395.4,291.21 397.6,289.13 399.8,289.04 402,291.78 404.2,289.89 406.4,291.21 408.6,289.91 410.8,290.5 413,288.74 415.2,290.49 417.4,291.32 419.6,290.08 421.8,290.87 424,290.62 426.2,288.43 428.4,290.93 430.6,290.33 432.8,289.28 435,288.31 437.2,291.32 439.4,289.9 441.6,290.79 443.8,291.36 446,290.77 448.2,291.52 450.4,289.62 452.6,291.08 454.8,289.8 457,291.57 459.2,291.36 461.4,288.55 463.6,288.69 465,290" fill="none" stroke="#ff0000" stroke-width="1.2" stroke-linejoin="round" stroke-dasharray="1.3,2"/>
<polyline points="303.1,290.4 307.4,290.8 312.4,291 316.1,291.4 319.2,292.3 322.3,293.5 326.1,292.9 329.2,292.3 332.3,289.8 335.4,286.9 338.5,284.5 342.2,284.5 345.3,286.9 348.4,290.4 351.5,292 354.6,289.8 357.1,286.4 360.8,285.2 363.9,288.5 367,290.2 369.5,289.2 372,285.7 374.5,285.4 377.6,291 380,291.4 384,288 387,287.5 390,291 392,288.75 394.2,292.05 396.4,289.72 398.6,290.56 400.8,289.12 403,290.03 405.2,289.5 407.4,289.34 409.6,290.37 411.8,290.37 414,291.78 416.2,290.8 418.4,291.89 420.6,291.57 422.8,292.16 425,290.75 427.2,288.52 429.4,291.59 431.6,292.04 433.8,291.78 436,290.3 438.2,290.94 440.4,288.73 442.6,291.46 444.8,290.32 447,289.05 449.2,288.08 451.4,291.56 453.6,292.16 455.8,288.19 458,291.32 460.2,289.61 462.4,288.46 464.6,289.09 465,290" fill="none" stroke="#000" stroke-width="1.2" stroke-linejoin="round" stroke-dasharray="1.3,2"/>
<polyline points="302.9,290 465.4,290" fill="none" stroke="#ff0000" stroke-width="1.3" stroke-linejoin="round"/>
<text transform="translate(384.35,388) scale(1.0,1)" font-size="16" text-anchor="middle" fill="#000">f (kHz)</text>
<line x1="547.09" y1="231.35" x2="547.09" y2="348.6" stroke="#f2f2f2" stroke-width="1" stroke-dasharray="1.5,1.5"/>
<line x1="557" y1="231.35" x2="557" y2="348.6" stroke="#f2f2f2" stroke-width="1" stroke-dasharray="1.5,1.5"/>
<line x1="565.6" y1="231.35" x2="565.6" y2="348.6" stroke="#f2f2f2" stroke-width="1" stroke-dasharray="1.5,1.5"/>
<line x1="573.17" y1="231.35" x2="573.17" y2="348.6" stroke="#f2f2f2" stroke-width="1" stroke-dasharray="1.5,1.5"/>
<line x1="624.55" y1="231.35" x2="624.55" y2="348.6" stroke="#f2f2f2" stroke-width="1" stroke-dasharray="1.5,1.5"/>
<line x1="650.63" y1="231.35" x2="650.63" y2="348.6" stroke="#f2f2f2" stroke-width="1" stroke-dasharray="1.5,1.5"/>
<line x1="535.36" y1="231.35" x2="535.36" y2="348.6" stroke="#efefef" stroke-width="1"/>
<line x1="579.95" y1="231.35" x2="579.95" y2="348.6" stroke="#efefef" stroke-width="1"/>
<line x1="669.14" y1="231.35" x2="669.14" y2="348.6" stroke="#efefef" stroke-width="1"/>
<line x1="521" y1="329.06" x2="683.5" y2="329.06" stroke="#efefef" stroke-width="1"/>
<line x1="521" y1="289.98" x2="683.5" y2="289.98" stroke="#efefef" stroke-width="1"/>
<line x1="521" y1="250.89" x2="683.5" y2="250.89" stroke="#efefef" stroke-width="1"/>
<line x1="547.09" y1="348.6" x2="547.09" y2="346.85" stroke="#a3a3a3" stroke-width="1"/>
<line x1="547.09" y1="231.35" x2="547.09" y2="233.1" stroke="#a3a3a3" stroke-width="1"/>
<line x1="557" y1="348.6" x2="557" y2="346.85" stroke="#a3a3a3" stroke-width="1"/>
<line x1="557" y1="231.35" x2="557" y2="233.1" stroke="#a3a3a3" stroke-width="1"/>
<line x1="565.6" y1="348.6" x2="565.6" y2="346.85" stroke="#a3a3a3" stroke-width="1"/>
<line x1="565.6" y1="231.35" x2="565.6" y2="233.1" stroke="#a3a3a3" stroke-width="1"/>
<line x1="573.17" y1="348.6" x2="573.17" y2="346.85" stroke="#a3a3a3" stroke-width="1"/>
<line x1="573.17" y1="231.35" x2="573.17" y2="233.1" stroke="#a3a3a3" stroke-width="1"/>
<line x1="624.55" y1="348.6" x2="624.55" y2="346.85" stroke="#a3a3a3" stroke-width="1"/>
<line x1="624.55" y1="231.35" x2="624.55" y2="233.1" stroke="#a3a3a3" stroke-width="1"/>
<line x1="650.63" y1="348.6" x2="650.63" y2="346.85" stroke="#a3a3a3" stroke-width="1"/>
<line x1="650.63" y1="231.35" x2="650.63" y2="233.1" stroke="#a3a3a3" stroke-width="1"/>
<line x1="535.36" y1="348.6" x2="535.36" y2="346.85" stroke="#a3a3a3" stroke-width="1"/>
<line x1="535.36" y1="231.35" x2="535.36" y2="233.1" stroke="#a3a3a3" stroke-width="1"/>
<line x1="579.95" y1="348.6" x2="579.95" y2="346.85" stroke="#a3a3a3" stroke-width="1"/>
<line x1="579.95" y1="231.35" x2="579.95" y2="233.1" stroke="#a3a3a3" stroke-width="1"/>
<line x1="669.14" y1="348.6" x2="669.14" y2="346.85" stroke="#a3a3a3" stroke-width="1"/>
<line x1="669.14" y1="231.35" x2="669.14" y2="233.1" stroke="#a3a3a3" stroke-width="1"/>
<line x1="521" y1="329.06" x2="523.5" y2="329.06" stroke="#a3a3a3" stroke-width="1"/>
<line x1="683.5" y1="329.06" x2="681" y2="329.06" stroke="#a3a3a3" stroke-width="1"/>
<line x1="521" y1="289.98" x2="523.5" y2="289.98" stroke="#a3a3a3" stroke-width="1"/>
<line x1="683.5" y1="289.98" x2="681" y2="289.98" stroke="#a3a3a3" stroke-width="1"/>
<line x1="521" y1="250.89" x2="523.5" y2="250.89" stroke="#a3a3a3" stroke-width="1"/>
<line x1="683.5" y1="250.89" x2="681" y2="250.89" stroke="#a3a3a3" stroke-width="1"/>
<rect x="521" y="231.35" width="162.5" height="117.25" fill="none" stroke="#a3a3a3" stroke-width="1.2"/>
<text transform="translate(515.7,336.09) scale(1.06,1)" font-size="16" text-anchor="end" fill="#000">-2</text>
<text transform="translate(515.7,297) scale(1.06,1)" font-size="16" text-anchor="end" fill="#000">0</text>
<text transform="translate(515.7,257.92) scale(1.06,1)" font-size="16" text-anchor="end" fill="#000">2</text>
<text transform="translate(535.36,369.36) scale(1.06,1)" font-size="16" text-anchor="middle" fill="#000">0.5</text>
<text transform="translate(579.95,369.36) scale(1.06,1)" font-size="16" text-anchor="middle" fill="#000">1</text>
<text transform="translate(669.14,369.36) scale(1.06,1)" font-size="16" text-anchor="middle" fill="#000">4</text>
<polyline points="520.7,270.2 521.7,273 523.2,276.1 524.8,278.9 526.7,282.1 528.9,284.8 531.6,287.1 535.4,288.8 538.5,287.3 541.6,285.4 544.7,286.1 547.8,287.1 550.9,285.4 554,282.3 556.7,284.2 558.3,287.3 560.2,292.5 562.7,296 565.8,299.1 568.9,297.2 571.4,295.4 574.5,299.1 576.3,296.6 578.2,287.3 579.4,281.7 581.9,280.5 583.1,286.7 585,292.9 589.3,286.7 592.2,284.8 595.6,287.1 597.4,289.8 601.1,287.5 603,291.18 605.2,291.64 607.4,287.99 609.6,290.5 611.8,288 614,290.96 616.2,289.26 618.4,291.68 620.6,292.11 622.8,290.02 625,292.19 627.2,289.16 629.4,288.14 631.6,290.44 633.8,287.94 636,288.67 638.2,289.59 640.4,290.49 642.6,288.49 644.8,287.99 647,291.62 649.2,289.18 651.4,292.02 653.6,291.75 655.8,289.46 658,289.83 660.2,290.09 662.4,290.63 664.6,290.42 666.8,290.26 669,290.53 671.2,291.94 673.4,290.03 675.6,289.7 677.8,290.97 680,288.85 682.2,289.12 683,290" fill="none" stroke="#ff0000" stroke-width="1.2" stroke-linejoin="round" stroke-dasharray="1.3,2"/>
<polyline points="520.7,290 524,288.8 527.3,287.3 530.4,286.7 534.1,287.5 537.2,289.2 540.3,289.5 543.4,287.3 547.2,285.8 550.9,286.1 554,288.5 556.7,291.3 560.2,292.9 563.3,294.7 566.4,297.2 569.5,298.5 572.6,292.5 574.5,289.5 576.3,290.8 577.8,293.8 580,297.8 581.9,295.4 585,293.5 588.1,292.5 590,289.5 592.5,292.3 593.7,295.4 596.8,291.9 600.5,292.5 603,293.18 605.2,290.62 607.4,290.77 609.6,287.76 611.8,290.03 614,290.95 616.2,287.81 618.4,291.15 620.6,291.24 622.8,288.04 625,291.21 627.2,290.31 629.4,291.5 631.6,289.67 633.8,291.66 636,291.83 638.2,287.82 640.4,288.04 642.6,291.49 644.8,293.09 647,289.11 649.2,290.26 651.4,291.02 653.6,289.49 655.8,289.74 658,289.45 660.2,289.77 662.4,291.04 664.6,289.38 666.8,289.81 669,292.02 671.2,287.85 673.4,290.89 675.6,291.82 677.8,289.44 680,288.95 682.2,292.2 683,290" fill="none" stroke="#000" stroke-width="1.2" stroke-linejoin="round" stroke-dasharray="1.3,2"/>
<polyline points="521,290 683.5,290" fill="none" stroke="#ff0000" stroke-width="1.3" stroke-linejoin="round"/>
<text transform="translate(602.45,388) scale(1.0,1)" font-size="16" text-anchor="middle" fill="#000">f (kHz)</text>
<text transform="translate(20.3,103.3) rotate(-90) scale(0.98,1.08)" text-anchor="middle" font-size="16">Diagonal terms</text>
<text transform="translate(20.3,289.3) rotate(-90) scale(0.99,1.08)" text-anchor="middle" font-size="16">Extra-diagonal terms</text>
<text transform="translate(48,103.6) rotate(-90) scale(1.0,1.08)" text-anchor="middle" font-size="16">h<tspan font-size="11.5" dy="7.8" dx="0.3">11</tspan><tspan dy="-7.8" dx="1.5"> (kg</tspan><tspan font-size="11.5" dy="-7">-1</tspan><tspan dy="7" dx="1.2">m</tspan><tspan font-size="12" dy="-7.3" dx="0.4">3</tspan><tspan dy="7.3" dx="0.2">)</tspan></text>
<text transform="translate(266.5,103.6) rotate(-90) scale(1.0,1.08)" text-anchor="middle" font-size="16">h<tspan font-size="11.5" dy="7.8" dx="0.3">22</tspan><tspan dy="-7.8" dx="1.5"> (kg</tspan><tspan font-size="11.5" dy="-7">-1</tspan><tspan dy="7" dx="1.2">m</tspan><tspan font-size="12" dy="-7.3" dx="0.4">3</tspan><tspan dy="7.3" dx="0.2">)</tspan></text>
<text transform="translate(484.6,103.6) rotate(-90) scale(1.0,1.08)" text-anchor="middle" font-size="16">h<tspan font-size="11.5" dy="7.8" dx="0.3">33</tspan><tspan dy="-7.8" dx="1.5"> (kg</tspan><tspan font-size="11.5" dy="-7">-1</tspan><tspan dy="7" dx="1.2">m</tspan><tspan font-size="12" dy="-7.3" dx="0.4">3</tspan><tspan dy="7.3" dx="0.2">)</tspan></text>
<text transform="translate(48,290.2) rotate(-90) scale(1.0,1.08)" text-anchor="middle" font-size="16">h<tspan font-size="11.5" dy="7.8" dx="0.3">12</tspan><tspan dy="-7.8" dx="1.5"> (kg</tspan><tspan font-size="11.5" dy="-7">-1</tspan><tspan dy="7" dx="1.2">m</tspan><tspan font-size="12" dy="-7.3" dx="0.4">3</tspan><tspan dy="7.3" dx="0.2">)</tspan></text>
<text transform="translate(266.5,290.2) rotate(-90) scale(1.0,1.08)" text-anchor="middle" font-size="16">h<tspan font-size="11.5" dy="7.8" dx="0.3">13</tspan><tspan dy="-7.8" dx="1.5"> (kg</tspan><tspan font-size="11.5" dy="-7">-1</tspan><tspan dy="7" dx="1.2">m</tspan><tspan font-size="12" dy="-7.3" dx="0.4">3</tspan><tspan dy="7.3" dx="0.2">)</tspan></text>
<text transform="translate(484.6,290.2) rotate(-90) scale(1.0,1.08)" text-anchor="middle" font-size="16">h<tspan font-size="11.5" dy="7.8" dx="0.3">23</tspan><tspan dy="-7.8" dx="1.5"> (kg</tspan><tspan font-size="11.5" dy="-7">-1</tspan><tspan dy="7" dx="1.2">m</tspan><tspan font-size="12" dy="-7.3" dx="0.4">3</tspan><tspan dy="7.3" dx="0.2">)</tspan></text>
<text transform="translate(304.1,228) scale(1.08,1)" font-size="16.5">&#215;<tspan dx="2.2">10</tspan><tspan font-size="12.5" dy="-7.4" dx="1">-3</tspan></text>
<text transform="translate(522.2,228) scale(1.08,1)" font-size="16.5">&#215;<tspan dx="2.2">10</tspan><tspan font-size="12.5" dy="-7.4" dx="1">-3</tspan></text>
<text transform="translate(2.5,19.5) scale(1.12,1)" font-size="25">(a)</text>
<text transform="translate(0.5,432.5) scale(1.1,1)" font-size="25">(b)</text>
<text transform="translate(354,432.5) scale(1.1,1)" font-size="25">(c)</text>
<line x1="140.2" y1="476.4" x2="140.2" y2="678.3" stroke="#f2f2f2" stroke-width="1" stroke-dasharray="1.5,1.5"/>
<line x1="151.34" y1="476.4" x2="151.34" y2="678.3" stroke="#f2f2f2" stroke-width="1" stroke-dasharray="1.5,1.5"/>
<line x1="160.98" y1="476.4" x2="160.98" y2="678.3" stroke="#f2f2f2" stroke-width="1" stroke-dasharray="1.5,1.5"/>
<line x1="169.49" y1="476.4" x2="169.49" y2="678.3" stroke="#f2f2f2" stroke-width="1" stroke-dasharray="1.5,1.5"/>
<line x1="227.19" y1="476.4" x2="227.19" y2="678.3" stroke="#f2f2f2" stroke-width="1" stroke-dasharray="1.5,1.5"/>
<line x1="256.49" y1="476.4" x2="256.49" y2="678.3" stroke="#f2f2f2" stroke-width="1" stroke-dasharray="1.5,1.5"/>
<line x1="127.02" y1="476.4" x2="127.02" y2="678.3" stroke="#efefef" stroke-width="1"/>
<line x1="177.11" y1="476.4" x2="177.11" y2="678.3" stroke="#efefef" stroke-width="1"/>
<line x1="277.28" y1="476.4" x2="277.28" y2="678.3" stroke="#efefef" stroke-width="1"/>
<line x1="110.9" y1="637.92" x2="293.4" y2="637.92" stroke="#efefef" stroke-width="1"/>
<line x1="110.9" y1="597.54" x2="293.4" y2="597.54" stroke="#efefef" stroke-width="1"/>
<line x1="110.9" y1="557.16" x2="293.4" y2="557.16" stroke="#efefef" stroke-width="1"/>
<line x1="110.9" y1="516.78" x2="293.4" y2="516.78" stroke="#efefef" stroke-width="1"/>
<line x1="140.2" y1="678.3" x2="140.2" y2="676.55" stroke="#a3a3a3" stroke-width="1"/>
<line x1="140.2" y1="476.4" x2="140.2" y2="478.15" stroke="#a3a3a3" stroke-width="1"/>
<line x1="151.34" y1="678.3" x2="151.34" y2="676.55" stroke="#a3a3a3" stroke-width="1"/>
<line x1="151.34" y1="476.4" x2="151.34" y2="478.15" stroke="#a3a3a3" stroke-width="1"/>
<line x1="160.98" y1="678.3" x2="160.98" y2="676.55" stroke="#a3a3a3" stroke-width="1"/>
<line x1="160.98" y1="476.4" x2="160.98" y2="478.15" stroke="#a3a3a3" stroke-width="1"/>
<line x1="169.49" y1="678.3" x2="169.49" y2="676.55" stroke="#a3a3a3" stroke-width="1"/>
<line x1="169.49" y1="476.4" x2="169.49" y2="478.15" stroke="#a3a3a3" stroke-width="1"/>
<line x1="227.19" y1="678.3" x2="227.19" y2="676.55" stroke="#a3a3a3" stroke-width="1"/>
<line x1="227.19" y1="476.4" x2="227.19" y2="478.15" stroke="#a3a3a3" stroke-width="1"/>
<line x1="256.49" y1="678.3" x2="256.49" y2="676.55" stroke="#a3a3a3" stroke-width="1"/>
<line x1="256.49" y1="476.4" x2="256.49" y2="478.15" stroke="#a3a3a3" stroke-width="1"/>
<line x1="127.02" y1="678.3" x2="127.02" y2="676.55" stroke="#a3a3a3" stroke-width="1"/>
<line x1="127.02" y1="476.4" x2="127.02" y2="478.15" stroke="#a3a3a3" stroke-width="1"/>
<line x1="177.11" y1="678.3" x2="177.11" y2="676.55" stroke="#a3a3a3" stroke-width="1"/>
<line x1="177.11" y1="476.4" x2="177.11" y2="478.15" stroke="#a3a3a3" stroke-width="1"/>
<line x1="277.28" y1="678.3" x2="277.28" y2="676.55" stroke="#a3a3a3" stroke-width="1"/>
<line x1="277.28" y1="476.4" x2="277.28" y2="478.15" stroke="#a3a3a3" stroke-width="1"/>
<line x1="110.9" y1="678.3" x2="113.4" y2="678.3" stroke="#a3a3a3" stroke-width="1"/>
<line x1="293.4" y1="678.3" x2="290.9" y2="678.3" stroke="#a3a3a3" stroke-width="1"/>
<line x1="110.9" y1="637.92" x2="113.4" y2="637.92" stroke="#a3a3a3" stroke-width="1"/>
<line x1="293.4" y1="637.92" x2="290.9" y2="637.92" stroke="#a3a3a3" stroke-width="1"/>
<line x1="110.9" y1="597.54" x2="113.4" y2="597.54" stroke="#a3a3a3" stroke-width="1"/>
<line x1="293.4" y1="597.54" x2="290.9" y2="597.54" stroke="#a3a3a3" stroke-width="1"/>
<line x1="110.9" y1="557.16" x2="113.4" y2="557.16" stroke="#a3a3a3" stroke-width="1"/>
<line x1="293.4" y1="557.16" x2="290.9" y2="557.16" stroke="#a3a3a3" stroke-width="1"/>
<line x1="110.9" y1="516.78" x2="113.4" y2="516.78" stroke="#a3a3a3" stroke-width="1"/>
<line x1="293.4" y1="516.78" x2="290.9" y2="516.78" stroke="#a3a3a3" stroke-width="1"/>
<line x1="110.9" y1="476.4" x2="113.4" y2="476.4" stroke="#a3a3a3" stroke-width="1"/>
<line x1="293.4" y1="476.4" x2="290.9" y2="476.4" stroke="#a3a3a3" stroke-width="1"/>
<rect x="110.9" y="476.4" width="182.5" height="201.9" fill="none" stroke="#a3a3a3" stroke-width="1.2"/>
<text transform="translate(105.4,684.6) scale(0.95,1)" font-size="17.6" text-anchor="end" fill="#000">-0.5</text>
<text transform="translate(105.4,644.22) scale(0.95,1)" font-size="17.6" text-anchor="end" fill="#000">0</text>
<text transform="translate(105.4,603.84) scale(0.95,1)" font-size="17.6" text-anchor="end" fill="#000">0.5</text>
<text transform="translate(105.4,563.46) scale(0.95,1)" font-size="17.6" text-anchor="end" fill="#000">1</text>
<text transform="translate(105.4,523.08) scale(0.95,1)" font-size="17.6" text-anchor="end" fill="#000">1.5</text>
<text transform="translate(105.4,482.7) scale(0.95,1)" font-size="17.6" text-anchor="end" fill="#000">2</text>
<text transform="translate(127.02,700.9) scale(0.95,1)" font-size="17.6" text-anchor="middle" fill="#000">0.5</text>
<text transform="translate(177.11,700.9) scale(0.95,1)" font-size="17.6" text-anchor="middle" fill="#000">1</text>
<text transform="translate(277.28,700.9) scale(0.95,1)" font-size="17.6" text-anchor="middle" fill="#000">4</text>
<polyline points="111,651.2 116.1,652.9 124.1,655.2 132.2,656.9 140.2,659.6 148.3,661.9 156.3,663.2 163.1,665 169.8,667.7 172.5,668.3 176.5,667 181.9,665 187.2,662.3 192.6,660 195,660.1 199.4,656.5 203.8,654.3 207.4,656.5 211.1,651.8 215.4,653.6 219.8,649.9 224.2,651.4 228.6,648.9 233,649.9 235.9,647.7 240.3,650.7 245.4,654.3 250.5,653.9 254.9,653.3 259.2,649.9 262.9,646.3 267.3,642.6 271.6,639 274.6,640.4 278.2,644.1 281.9,645.1 285.5,641.9 289.2,640.4 292.5,635.3" fill="none" stroke="#ff0000" stroke-width="1.2" stroke-linejoin="round" stroke-dasharray="1,1.4"/>
<polyline points="111,559.1 116.1,556.4 124.1,553 134.9,551 142.9,549 151,546.3 159,544.3 165.7,541.6 169.8,536.3 173.8,532.9 179.2,532.2 183.2,530.2 188.6,526.6 194,526.9 199.4,523.6 203.8,527 208.9,524.5 213.2,528.5 216.9,526.6 222,530.7 226.4,529.2 230.8,533.3 234.4,532.4 238.1,535 241,533.9 243.9,536.5 246.8,534.3 250.5,532.4 254.9,529.2 258.5,527.4 262.9,526 266.5,526.6 270.2,528.9 273.8,532.8 277.5,532.4 281.1,528.5 284.1,521.9 287,516.1 289.9,513.9 293,517.5" fill="none" stroke="#000" stroke-width="1.2" stroke-linejoin="round" stroke-dasharray="1,1.4"/>
<polyline points="110.9,550.4 112.21,550.33 113.92,550.25 115.96,550.16 118.24,550.05 120.67,549.92 123.19,549.77 125.69,549.6 128.1,549.4 130.48,549.17 132.94,548.92 135.46,548.65 138.02,548.35 140.6,548.03 143.19,547.7 145.76,547.36 148.3,547 150.86,546.62 153.49,546.21 156.13,545.78 158.77,545.33 161.35,544.88 163.84,544.44 166.2,544.01 168.4,543.6 170.37,543.22 172.13,542.86 173.74,542.52 175.28,542.18 176.79,541.83 178.36,541.48 180.04,541.1 181.9,540.7 183.9,540.28 185.96,539.84 188.08,539.4 190.28,538.94 192.56,538.46 194.94,537.96 197.41,537.44 200,536.9 202.7,536.32 205.5,535.7 208.41,535.06 211.41,534.39 214.49,533.73 217.66,533.06 220.89,532.42 224.2,531.8 227.66,531.19 231.32,530.58 235.1,529.97 238.94,529.37 242.76,528.79 246.5,528.25 250.07,527.75 253.4,527.3 256.52,526.91 259.49,526.56 262.33,526.25 265.07,525.98 267.72,525.74 270.29,525.51 272.81,525.3 275.3,525.1 277.83,524.91 280.44,524.74 283.02,524.59 285.52,524.46 287.84,524.35 289.92,524.25 291.66,524.17 293,524.1" fill="none" stroke="#000" stroke-width="1.25" stroke-linejoin="round"/>
<polyline points="110.9,646.2 112.21,646.35 113.92,646.55 115.96,646.79 118.24,647.05 120.67,647.33 123.19,647.63 125.69,647.92 128.1,648.2 130.48,648.48 132.94,648.78 135.46,649.09 138.02,649.41 140.6,649.72 143.19,650.03 145.76,650.32 148.3,650.6 150.86,650.87 153.49,651.14 156.13,651.4 158.77,651.65 161.35,651.89 163.84,652.11 166.2,652.32 168.4,652.5 170.37,652.66 172.13,652.79 173.74,652.91 175.28,653.01 176.79,653.09 178.36,653.17 180.04,653.24 181.9,653.3 183.9,653.36 185.96,653.42 188.08,653.48 190.28,653.52 192.56,653.55 194.94,653.56 197.41,653.54 200,653.5 202.7,653.43 205.5,653.35 208.41,653.24 211.41,653.12 214.49,652.97 217.66,652.8 220.89,652.61 224.2,652.4 227.66,652.15 231.32,651.86 235.1,651.54 238.94,651.2 242.76,650.86 246.5,650.52 250.07,650.19 253.4,649.9 256.52,649.63 259.49,649.38 262.33,649.13 265.07,648.9 267.72,648.67 270.29,648.45 272.81,648.22 275.3,648 277.83,647.77 280.44,647.52 283.02,647.27 285.52,647.03 287.84,646.8 289.92,646.6 291.66,646.43 293,646.3" fill="none" stroke="#ff0000" stroke-width="1.25" stroke-linejoin="round"/>
<text transform="translate(202.11,722.8) scale(0.93,1)" font-size="17.6" text-anchor="middle" fill="#000">f (kHz)</text>
<text transform="translate(64.6,576.8) rotate(-90) scale(1,1.03)" text-anchor="middle" font-size="17.6">B/P<tspan font-size="13" dy="8" dx="0.3">0</tspan><tspan dy="-8" dx="0.8"> (1)</tspan></text>
<rect x="248.5" y="588.1" width="44.6" height="45.2" fill="#fff" stroke="#a0a0a0" stroke-width="1"/>
<line x1="251" y1="599.4" x2="268.5" y2="599.4" stroke="#000" stroke-width="1.3"/>
<line x1="251" y1="621.6" x2="268.5" y2="621.6" stroke="#ff0000" stroke-width="1.5"/>
<text transform="translate(271,606.5) scale(0.9,1)" font-size="17.6" text-anchor="start" fill="#000">Re</text>
<text transform="translate(271,628.3) scale(0.92,1)" font-size="17.6" text-anchor="start" fill="#000">Im</text>
<line x1="537.21" y1="678.04" x2="450.21" y2="611.33" stroke="#e8e8e8" stroke-width="1"/>
<line x1="492.16" y1="674.28" x2="607.87" y2="624.48" stroke="#e8e8e8" stroke-width="1"/>
<line x1="450.21" y1="611.33" x2="450.21" y2="493.43" stroke="#e8e8e8" stroke-width="1"/>
<line x1="607.87" y1="624.48" x2="607.87" y2="506.58" stroke="#e8e8e8" stroke-width="1"/>
<line x1="569.35" y1="664.2" x2="482.35" y2="597.5" stroke="#e8e8e8" stroke-width="1"/>
<line x1="468" y1="655.75" x2="583.7" y2="605.95" stroke="#e8e8e8" stroke-width="1"/>
<line x1="482.35" y1="597.5" x2="482.35" y2="479.6" stroke="#e8e8e8" stroke-width="1"/>
<line x1="583.7" y1="605.95" x2="583.7" y2="488.05" stroke="#e8e8e8" stroke-width="1"/>
<line x1="601.49" y1="650.37" x2="514.49" y2="583.66" stroke="#e8e8e8" stroke-width="1"/>
<line x1="443.83" y1="637.22" x2="559.54" y2="587.42" stroke="#e8e8e8" stroke-width="1"/>
<line x1="514.49" y1="583.66" x2="514.49" y2="465.76" stroke="#e8e8e8" stroke-width="1"/>
<line x1="559.54" y1="587.42" x2="559.54" y2="469.52" stroke="#e8e8e8" stroke-width="1"/>
<line x1="424.5" y1="622.4" x2="540.21" y2="572.59" stroke="#e8e8e8" stroke-width="1"/>
<line x1="540.21" y1="572.59" x2="627.2" y2="639.3" stroke="#e8e8e8" stroke-width="1"/>
<line x1="424.5" y1="556.9" x2="540.21" y2="507.09" stroke="#e8e8e8" stroke-width="1"/>
<line x1="540.21" y1="507.09" x2="627.2" y2="573.8" stroke="#e8e8e8" stroke-width="1"/>
<line x1="424.5" y1="622.4" x2="511.5" y2="689.11" stroke="#808080" stroke-width="1"/>
<line x1="511.5" y1="689.11" x2="627.2" y2="639.3" stroke="#808080" stroke-width="1"/>
<line x1="424.5" y1="622.4" x2="424.5" y2="504.5" stroke="#808080" stroke-width="1"/>
<line x1="537.21" y1="678.04" x2="538.66" y2="679.15" stroke="#808080" stroke-width="1"/>
<line x1="492.16" y1="674.28" x2="490.23" y2="675.11" stroke="#808080" stroke-width="1"/>
<line x1="569.35" y1="664.2" x2="570.8" y2="665.32" stroke="#808080" stroke-width="1"/>
<line x1="468" y1="655.75" x2="466.07" y2="656.58" stroke="#808080" stroke-width="1"/>
<line x1="601.49" y1="650.37" x2="602.94" y2="651.48" stroke="#808080" stroke-width="1"/>
<line x1="443.83" y1="637.22" x2="441.9" y2="638.05" stroke="#808080" stroke-width="1"/>
<line x1="424.5" y1="622.4" x2="422.57" y2="623.23" stroke="#808080" stroke-width="1"/>
<line x1="424.5" y1="556.9" x2="422.57" y2="557.73" stroke="#808080" stroke-width="1"/>
<line x1="525.85" y1="630.85" x2="583.7" y2="605.95" stroke="#222" stroke-width="0.9"/>
<line x1="583.7" y1="605.95" x2="578.82" y2="610.24" stroke="#222" stroke-width="0.9"/>
<line x1="583.7" y1="605.95" x2="577.23" y2="606.55" stroke="#222" stroke-width="0.9"/>
<line x1="525.85" y1="630.85" x2="482.35" y2="597.5" stroke="#222" stroke-width="0.9"/>
<line x1="482.35" y1="597.5" x2="488.48" y2="599.66" stroke="#222" stroke-width="0.9"/>
<line x1="482.35" y1="597.5" x2="486.04" y2="602.85" stroke="#222" stroke-width="0.9"/>
<line x1="525.85" y1="630.85" x2="525.8" y2="513.6" stroke="#f08080" stroke-width="1.2"/>
<line x1="525.8" y1="513.6" x2="523.4" y2="524.6" stroke="#333" stroke-width="1"/>
<line x1="525.8" y1="513.6" x2="528.5" y2="525.5" stroke="#333" stroke-width="1"/>
<line x1="525.85" y1="630.85" x2="596.97" y2="637.9" stroke="#2020ff" stroke-width="0.9"/>
<line x1="596.97" y1="637.9" x2="590.62" y2="639.29" stroke="#2020ff" stroke-width="0.9"/>
<line x1="596.97" y1="637.9" x2="591.02" y2="635.29" stroke="#2020ff" stroke-width="0.9"/>
<line x1="525.85" y1="630.85" x2="537.88" y2="589.97" stroke="#20e020" stroke-width="0.9"/>
<line x1="537.88" y1="589.97" x2="538.06" y2="596.47" stroke="#20e020" stroke-width="0.9"/>
<line x1="537.88" y1="589.97" x2="534.2" y2="595.33" stroke="#20e020" stroke-width="0.9"/>
<line x1="525.85" y1="630.85" x2="525.8" y2="513.6" stroke="#f07878" stroke-width="1.1"/>
<line x1="525.8" y1="513.6" x2="524.2" y2="521.6" stroke="#f4a0a0" stroke-width="1"/>
<line x1="525.8" y1="513.6" x2="527.4" y2="521.6" stroke="#f4a0a0" stroke-width="1"/>
<text transform="translate(587.6,608.8) scale(1.08,1)" font-size="18" fill="#000" style="stroke:#000">x<tspan font-size="15" dy="9.4" dx="0.3">1</tspan></text>
<text transform="translate(479.3,589.5) scale(1.08,1)" font-size="18" fill="#000" style="stroke:#000">x<tspan font-size="15" dy="9.4" dx="0.3">2</tspan></text>
<text transform="translate(520.4,510.9) scale(1.08,1)" font-size="18" fill="#000" style="stroke:#000">x<tspan font-size="15" dy="9.4" dx="0.3">3</tspan></text>
<text transform="translate(598.3,640.6) scale(1.08,1)" font-size="18" fill="#0000ff" style="stroke:#0000ff">x<tspan font-size="15" dy="9.4" dx="0.3">I</tspan></text>
<text transform="translate(534.5,591.3) scale(1.08,1)" font-size="18" fill="#00ee00" style="stroke:#00ee00">x<tspan font-size="15" dy="9.4" dx="0.3">II</tspan></text>
<text transform="translate(532.2,537.6) scale(1.08,1)" font-size="18" fill="#ff0000" style="stroke:#ff0000">x<tspan font-size="15" dy="9.4" dx="0.3">III</tspan></text>
<text transform="translate(417.3,559.3) scale(1.06,1)" font-size="18" text-anchor="end" fill="#000">0.5</text>
<text transform="translate(417.3,625.1) scale(1.06,1)" font-size="18" text-anchor="end" fill="#000">0</text>
<text transform="translate(435.3,658.8) scale(1.06,1)" font-size="18" text-anchor="end" fill="#000">0.5</text>
<text transform="translate(460.2,677.8) scale(1.06,1)" font-size="18" text-anchor="end" fill="#000">0</text>
<text transform="translate(484.3,696) scale(1.06,1)" font-size="18" text-anchor="end" fill="#000">-0.5</text>
<text transform="translate(576.8,701.6) scale(1.06,1)" font-size="18" text-anchor="end" fill="#000">-0.5</text>
<text transform="translate(586.7,688) scale(1.06,1)" font-size="18" text-anchor="end" fill="#000">0</text>
<text transform="translate(634.5,673.4) scale(1.06,1)" font-size="18" text-anchor="end" fill="#000">0.5</text>
</svg></body></html>
